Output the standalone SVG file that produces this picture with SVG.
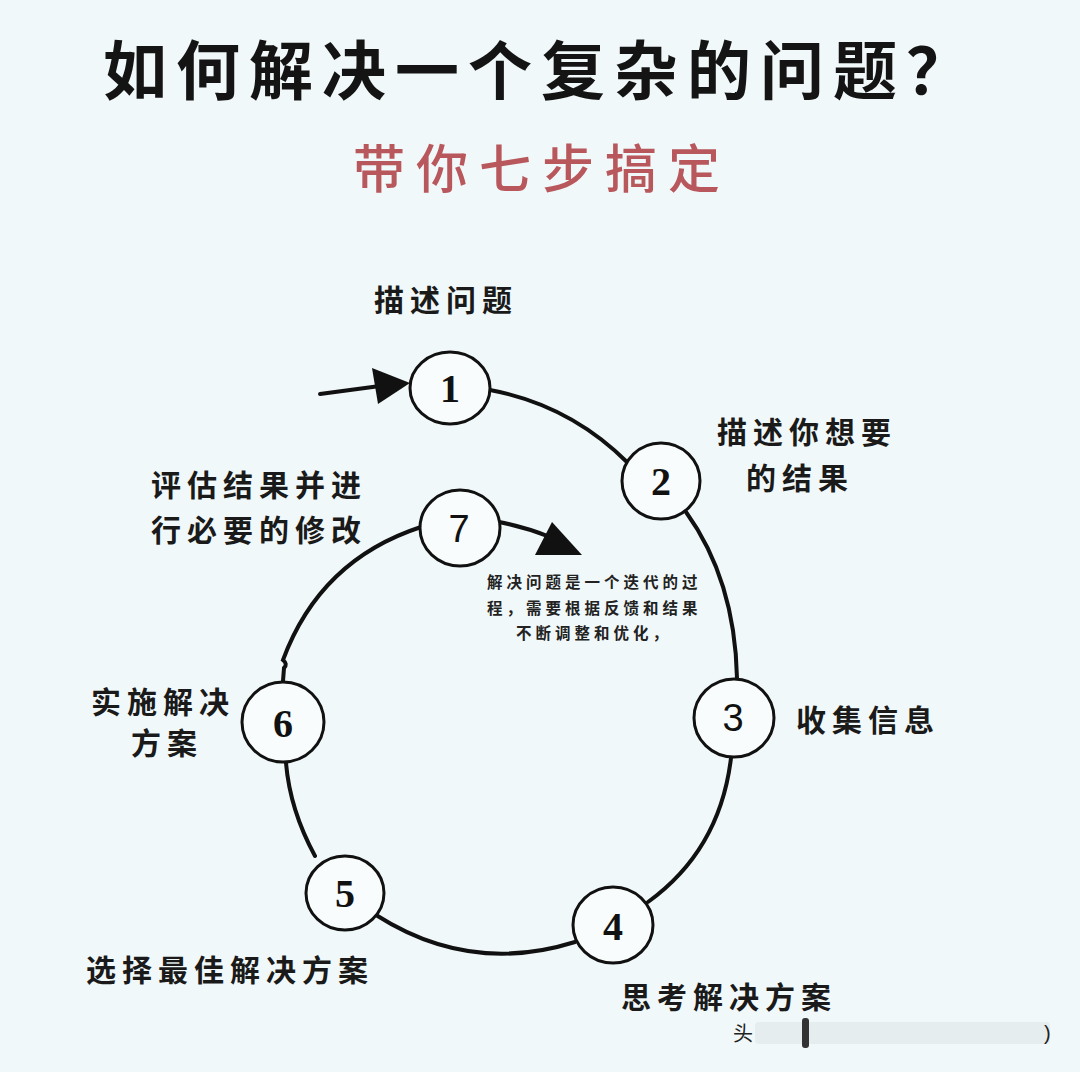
<svg xmlns="http://www.w3.org/2000/svg" width="1080" height="1072" viewBox="0 0 1080 1072">
<style>
.bg{fill:#f1f8f9}
.title{font-family:"Noto Sans CJK SC","Noto Sans CJK JP",sans-serif;font-weight:700;fill:#141414}
.sub{font-family:"Noto Sans CJK SC","Noto Sans CJK JP",sans-serif;font-weight:500;fill:#b8575c}
.lbl{font-family:"Noto Sans CJK SC","Noto Sans CJK JP",sans-serif;font-weight:700;font-size:30px;letter-spacing:6px;fill:#1a1a1a}
.note{font-family:"Noto Sans CJK SC","Noto Sans CJK JP",sans-serif;font-weight:700;font-size:15.5px;letter-spacing:4px;fill:#222}
.node{fill:#f8fcfc;stroke:#111;stroke-width:3}
.num{font-family:"Liberation Serif",serif;font-weight:700;font-size:40px;fill:#111;text-anchor:middle}
.nums{font-family:"Liberation Sans",sans-serif;font-weight:400;font-size:38px;fill:#111;text-anchor:middle}
.conn{fill:none;stroke:#111;stroke-width:4;stroke-linecap:round}
.head{fill:#111}
</style>
<rect class="bg" x="0" y="0" width="1080" height="1072"/>
<text class="title" x="103" y="94" font-size="64" letter-spacing="9">如何解决一个复杂的问题？</text>
<text class="sub" x="353" y="188" font-size="52" letter-spacing="11">带你七步搞定</text>

<g id="connectors">
<path class="conn" d="M320,394 L380,386" stroke-width="5"/>
<polygon class="head" points="410,383 372,368 378,404"/>
<path class="conn" d="M490,390 Q570,405 628,463"/>
<path class="conn" d="M686,512 Q735,580 737,678"/>
<path class="conn" d="M731,758 Q720,850 648,902"/>
<path class="conn" d="M575,942 Q470,975 376,915"/>
<path class="conn" d="M315,856 Q290,810 286,763"/>
<path class="conn" d="M283,681 L284,668 Q288,664 283,660 Q320,560 421,527"/>
<path class="conn" d="M499,522 Q525,527 550,537"/>
<polygon class="head" points="552,522 582,555 535,555"/>
</g>

<g id="node1"><ellipse class="node" cx="450" cy="388" rx="40" ry="36"/><text class="num" x="450" y="402">1</text><text class="lbl" x="374" y="311">描述问题</text></g>
<g id="node2"><ellipse class="node" cx="661" cy="481" rx="39" ry="38"/><text class="num" x="661" y="495">2</text><text class="lbl" x="717" y="443">描述你想要</text><text class="lbl" x="746" y="489">的结果</text></g>
<g id="node3"><ellipse class="node" cx="734" cy="718" rx="40" ry="39"/><text class="nums" x="733" y="731">3</text><text class="lbl" x="796" y="731">收集信息</text></g>
<g id="node4"><ellipse class="node" cx="613" cy="925" rx="40" ry="38"/><text class="num" x="613" y="940">4</text><text class="lbl" x="621" y="1008">思考解决方案</text></g>
<g id="node5"><ellipse class="node" cx="345" cy="893" rx="39" ry="37"/><text class="num" x="345" y="907">5</text><text class="lbl" x="86" y="981">选择最佳解决方案</text></g>
<g id="node6"><ellipse class="node" cx="283" cy="722" rx="41" ry="40"/><text class="num" x="283" y="737">6</text><text class="lbl" x="91" y="713">实施解决</text><text class="lbl" x="131" y="754">方案</text></g>
<g id="node7"><ellipse class="node" cx="460" cy="528" rx="40" ry="38"/><text class="nums" x="459" y="542">7</text><text class="lbl" x="151" y="496">评估结果并进</text><text class="lbl" x="151" y="541">行必要的修改</text></g>

<g id="note">
<text class="note" x="487" y="588">解决问题是一个迭代的过</text>
<text class="note" x="487" y="614">程，需要根据反馈和结果</text>
<text class="note" x="516" y="639">不断调整和优化，</text>
</g>

<g id="watermark">
<rect x="755" y="1022" width="295" height="22" rx="4" fill="#dfe6e8" opacity="0.6"/>
<rect x="802" y="1018" width="7" height="30" rx="3" fill="#333"/>
<text x="733" y="1041" font-family="Noto Sans CJK SC,sans-serif" font-size="20" fill="#222">头</text>
<text x="1044" y="1040" font-family="Liberation Sans,sans-serif" font-size="20" fill="#222">)</text>
</g>
</svg>
